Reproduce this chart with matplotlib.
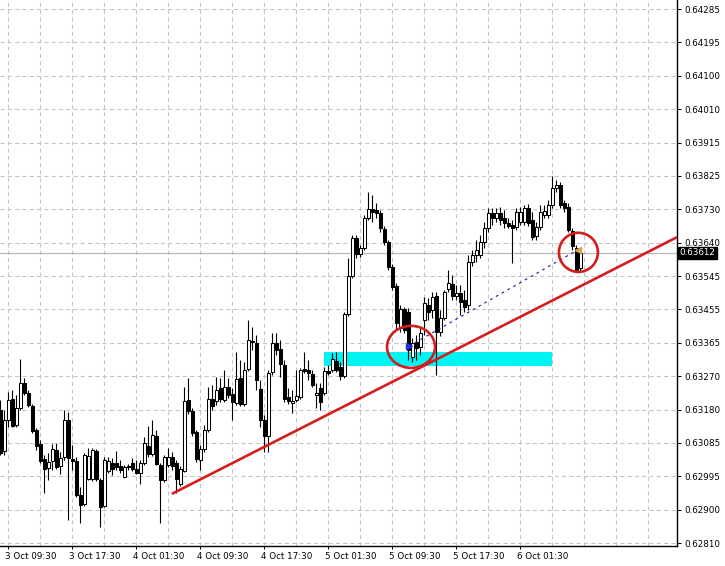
import matplotlib
matplotlib.use("Agg")

import matplotlib.pyplot as plt
import matplotlib.transforms as mtransforms
from matplotlib.patches import Ellipse, Rectangle
import numpy as np

# =====================================================
# Data - 30 minute candles
# =====================================================

opens = [
    0.63178, 0.63064, 0.63150, 0.63208, 0.63136, 0.63183, 0.63252, 0.63225, 0.63189, 0.63122,
    0.63084, 0.63042, 0.63017, 0.63037, 0.63067, 0.63023, 0.63048, 0.63150, 0.63042, 0.63037,
    0.62943, 0.62918, 0.62987, 0.62987, 0.63064, 0.62984, 0.62912, 0.63009, 0.63031, 0.63031,
    0.63023, 0.62993, 0.63023, 0.63031, 0.63015, 0.63004, 0.63031, 0.63078, 0.63056, 0.63106,
    0.63026, 0.62984, 0.63026, 0.63048, 0.63031, 0.62973, 0.63009, 0.63205, 0.63175, 0.63117,
    0.63040, 0.63070, 0.63122, 0.63208, 0.63202, 0.63238, 0.63205, 0.63241, 0.63222, 0.63197,
    0.63266, 0.63194, 0.63291, 0.63368, 0.63363, 0.63236, 0.63150, 0.63106, 0.63283, 0.63363,
    0.63346, 0.63302, 0.63214, 0.63197, 0.63205, 0.63214, 0.63291, 0.63288, 0.63277, 0.63219,
    0.63238, 0.63225, 0.63285, 0.63288, 0.63313, 0.63296, 0.63272, 0.63443, 0.63548, 0.63653,
    0.63608, 0.63625, 0.63708, 0.63733, 0.63730, 0.63722, 0.63678, 0.63642, 0.63573, 0.63520,
    0.63404, 0.63457, 0.63448, 0.63324, 0.63365, 0.63352, 0.63426, 0.63468, 0.63454, 0.63492,
    0.63393, 0.63432, 0.63512, 0.63526, 0.63492, 0.63501, 0.63481, 0.63468, 0.63586, 0.63606,
    0.63606, 0.63642, 0.63680, 0.63722, 0.63708, 0.63722, 0.63708, 0.63694, 0.63689, 0.63683,
    0.63697, 0.63697, 0.63735, 0.63702, 0.63658, 0.63683, 0.63716, 0.63716, 0.63744, 0.63791,
    0.63799, 0.63749, 0.63738, 0.63672, 0.63625, 0.63570,
]

highs = [
    0.63205, 0.63178, 0.63227, 0.63233, 0.63219, 0.63319, 0.63266, 0.63233, 0.63194, 0.63128,
    0.63095, 0.63053, 0.63059, 0.63084, 0.63086, 0.63062, 0.63178, 0.63172, 0.63081, 0.63048,
    0.62965, 0.63059, 0.63073, 0.63073, 0.63070, 0.62990, 0.63048, 0.63048, 0.63045, 0.63064,
    0.63040, 0.63026, 0.63028, 0.63045, 0.63040, 0.63040, 0.63103, 0.63133, 0.63150, 0.63122,
    0.63031, 0.63053, 0.63073, 0.63062, 0.63040, 0.63023, 0.63241, 0.63266, 0.63183, 0.63122,
    0.63081, 0.63136, 0.63241, 0.63247, 0.63269, 0.63266, 0.63288, 0.63266, 0.63238, 0.63338,
    0.63316, 0.63310, 0.63426, 0.63407, 0.63385, 0.63260, 0.63164, 0.63288, 0.63390, 0.63390,
    0.63371, 0.63316, 0.63238, 0.63233, 0.63288, 0.63294, 0.63338, 0.63316, 0.63288, 0.63252,
    0.63252, 0.63296, 0.63302, 0.63335, 0.63338, 0.63310, 0.63448, 0.63597, 0.63661, 0.63661,
    0.63633, 0.63716, 0.63780, 0.63771, 0.63749, 0.63730, 0.63686, 0.63647, 0.63581, 0.63528,
    0.63468, 0.63462, 0.63459, 0.63376, 0.63385, 0.63404, 0.63490, 0.63487, 0.63503, 0.63503,
    0.63454, 0.63509, 0.63564, 0.63550, 0.63523, 0.63523, 0.63509, 0.63606, 0.63620, 0.63647,
    0.63661, 0.63697, 0.63735, 0.63735, 0.63735, 0.63738, 0.63730, 0.63708, 0.63702, 0.63735,
    0.63738, 0.63744, 0.63747, 0.63724, 0.63697, 0.63744, 0.63744, 0.63758, 0.63824, 0.63813,
    0.63807, 0.63758, 0.63749, 0.63680, 0.63633, 0.63614,
]

lows = [
    0.63053, 0.63053, 0.63131, 0.63131, 0.63131, 0.63178, 0.63219, 0.63186, 0.63114, 0.63067,
    0.63031, 0.62948, 0.62984, 0.63012, 0.63015, 0.63001, 0.63040, 0.62874, 0.63012, 0.62937,
    0.62866, 0.62912, 0.62984, 0.62981, 0.62981, 0.62854, 0.62910, 0.63004, 0.62998, 0.63012,
    0.63004, 0.62990, 0.63012, 0.63009, 0.63001, 0.62973, 0.63026, 0.63048, 0.63051, 0.63026,
    0.62866, 0.62979, 0.63020, 0.63012, 0.62948, 0.62968, 0.63006, 0.63167, 0.63106, 0.63034,
    0.63012, 0.63062, 0.63117, 0.63178, 0.63191, 0.63200, 0.63200, 0.63211, 0.63150, 0.63191,
    0.63189, 0.63189, 0.63285, 0.63343, 0.63233, 0.63131, 0.63062, 0.63062, 0.63274, 0.63330,
    0.63269, 0.63200, 0.63194, 0.63169, 0.63200, 0.63208, 0.63280, 0.63260, 0.63241, 0.63183,
    0.63178, 0.63219, 0.63274, 0.63283, 0.63283, 0.63260, 0.63266, 0.63437, 0.63542, 0.63597,
    0.63600, 0.63620, 0.63702, 0.63697, 0.63708, 0.63669, 0.63633, 0.63564, 0.63509, 0.63399,
    0.63393, 0.63390, 0.63316, 0.63310, 0.63316, 0.63330, 0.63385, 0.63426, 0.63432, 0.63274,
    0.63382, 0.63426, 0.63503, 0.63481, 0.63481, 0.63440, 0.63448, 0.63454, 0.63575, 0.63586,
    0.63597, 0.63625, 0.63669, 0.63689, 0.63697, 0.63689, 0.63680, 0.63680, 0.63584, 0.63675,
    0.63689, 0.63689, 0.63686, 0.63647, 0.63647, 0.63675, 0.63708, 0.63708, 0.63735, 0.63780,
    0.63735, 0.63724, 0.63669, 0.63620, 0.63559, 0.63559,
]

closes = [
    0.63059, 0.63150, 0.63205, 0.63133, 0.63183, 0.63252, 0.63225, 0.63191, 0.63120, 0.63078,
    0.63037, 0.63015, 0.63034, 0.63070, 0.63020, 0.63045, 0.63150, 0.63045, 0.63037, 0.62943,
    0.62915, 0.63053, 0.63051, 0.63067, 0.62987, 0.62910, 0.63040, 0.63037, 0.63015, 0.63020,
    0.63012, 0.63020, 0.63020, 0.63015, 0.63004, 0.63031, 0.63086, 0.63056, 0.63109, 0.63028,
    0.62984, 0.63048, 0.63048, 0.63023, 0.62987, 0.63015, 0.63202, 0.63175, 0.63114, 0.63042,
    0.63070, 0.63122, 0.63208, 0.63189, 0.63233, 0.63208, 0.63241, 0.63219, 0.63200, 0.63263,
    0.63194, 0.63288, 0.63371, 0.63365, 0.63260, 0.63150, 0.63106, 0.63280, 0.63363, 0.63343,
    0.63305, 0.63208, 0.63202, 0.63202, 0.63216, 0.63288, 0.63285, 0.63280, 0.63247, 0.63225,
    0.63200, 0.63285, 0.63280, 0.63319, 0.63288, 0.63272, 0.63443, 0.63548, 0.63653, 0.63608,
    0.63625, 0.63708, 0.63733, 0.63724, 0.63722, 0.63680, 0.63642, 0.63573, 0.63517, 0.63418,
    0.63457, 0.63399, 0.63343, 0.63363, 0.63349, 0.63390, 0.63473, 0.63448, 0.63490, 0.63393,
    0.63432, 0.63503, 0.63528, 0.63492, 0.63501, 0.63476, 0.63462, 0.63586, 0.63606, 0.63620,
    0.63642, 0.63680, 0.63722, 0.63708, 0.63722, 0.63702, 0.63694, 0.63686, 0.63680, 0.63724,
    0.63724, 0.63735, 0.63694, 0.63655, 0.63683, 0.63724, 0.63727, 0.63744, 0.63791, 0.63799,
    0.63744, 0.63735, 0.63675, 0.63631, 0.63564, 0.63612,
]

current_price = 0.63612

# price scale labels (right side) and time labels (bottom)
price_labels = [
    "0.62810", "0.62900", "0.62995", "0.63085", "0.63180", "0.63270",
    "0.63365", "0.63455", "0.63545", "0.63640", "0.63730", "0.63825",
    "0.63915", "0.64010", "0.64100", "0.64195", "0.64285",
]
time_labels = [
    "3 Oct 09:30", "3 Oct 17:30", "4 Oct 01:30", "4 Oct 09:30", "4 Oct 17:30",
    "5 Oct 01:30", "5 Oct 09:30", "5 Oct 17:30", "6 Oct 01:30",
]

# drawn objects: trend line, support zone, trade line
trend_bars = [42.9, 169.2]
trend_prices = [0.62946, 0.63655]

zone_bars = [80.9, 137.9]
zone_prices = [0.63299, 0.63338]

trade_bars = [102.2, 144.4]
trade_prices = [0.63354, 0.63620]

# =====================================================
# Figure
# =====================================================

figure = plt.figure(figsize=(7.25, 5.66), dpi=100)
axes = figure.add_axes([0, 20 / 566, 677 / 725, 546 / 566])

n = len(closes)
x = np.arange(n)
o = np.array(opens)
c = np.array(closes)

axes.set_xlim(-0.075, 169.2)
axes.set_ylim(0.62802, 0.64310)

# grid
grid_color = "#c4c4c4"
tick_pos = np.linspace(0.62810, 0.64285, len(price_labels))
for p in tick_pos:
    axes.axhline(p, color=grid_color, lw=0.75, ls=(0, (4, 3)), zorder=0)
for g in range(2, 170, 8):
    axes.axvline(g, color=grid_color, lw=0.75, ls=(0, (4, 3)), zorder=0)

# current price line
axes.axhline(current_price, color="#b8b8b8", lw=0.9, zorder=1)

# support zone (cyan)
axes.add_patch(Rectangle(
    (zone_bars[0], zone_prices[0]),
    zone_bars[1] - zone_bars[0],
    zone_prices[1] - zone_prices[0],
    facecolor="#00f4f4", edgecolor="none", zorder=1
))

# candles
axes.vlines(x, lows, highs, color="black", lw=0.8, zorder=3)
up = c >= o
body = np.maximum(np.abs(c - o), 0.000012)
axes.bar(x[up], body[up], bottom=o[up], width=0.7,
         facecolor="white", edgecolor="black", linewidth=0.75, zorder=4)
axes.bar(x[~up], body[~up], bottom=c[~up], width=0.7,
         facecolor="black", edgecolor="black", linewidth=0.75, zorder=4)

# trend line
red = "#d41e1e"
axes.plot(trend_bars, trend_prices, color=red, lw=1.9, zorder=5,
          solid_capstyle="butt")

# trade line with open/close arrows
axes.plot(trade_bars, trade_prices, color="#1a1aa0", lw=0.8,
          ls=(0, (2.5, 3.5)), zorder=5)
axes.plot(trade_bars[0], trade_prices[0], marker=">", color="#1f2fe0",
          markersize=4.5, zorder=6)
axes.plot(trade_bars[1], trade_prices[1], marker="<", color="#d7a64c",
          markersize=5, zorder=6)

# red circles
axes.add_patch(Ellipse((102.7, 0.63352), 12.0, 0.00116, fill=False,
                       edgecolor=red, lw=1.9, zorder=6))
axes.add_patch(Ellipse((144.55, 0.63613), 9.75, 0.00108, fill=False,
                       edgecolor=red, lw=1.9, zorder=6))

# =====================================================
# Axes styling
# =====================================================

for side in ["left", "top"]:
    axes.spines[side].set_visible(False)
for side in ["right", "bottom"]:
    axes.spines[side].set_color("black")
    axes.spines[side].set_linewidth(1.0)

axes.yaxis.tick_right()
axes.set_yticks(tick_pos, price_labels)
axes.tick_params(axis="y", length=3, width=0.7, pad=2, labelsize=6.3,
                 colors="black")

label_bars = [2 + 16 * k for k in range(len(time_labels))]
axes.set_xticks(label_bars, time_labels)
axes.tick_params(axis="x", length=2, width=0.7, pad=2, labelsize=6.3,
                 colors="black")
shift = mtransforms.ScaledTranslation(-3 / 100, 0, figure.dpi_scale_trans)
for lab in axes.get_xticklabels():
    lab.set_horizontalalignment("left")
    lab.set_transform(lab.get_transform() + shift)

# current price box on the price scale
axes.text(1.004, current_price, "%.5f" % current_price,
          transform=mtransforms.blended_transform_factory(axes.transAxes, axes.transData),
          color="white", fontsize=6.3, va="center", ha="left", zorder=10,
          bbox=dict(boxstyle="square,pad=0.15", facecolor="black", edgecolor="black"),
          clip_on=False)

figure.savefig("out.png", dpi=100, facecolor="white")
